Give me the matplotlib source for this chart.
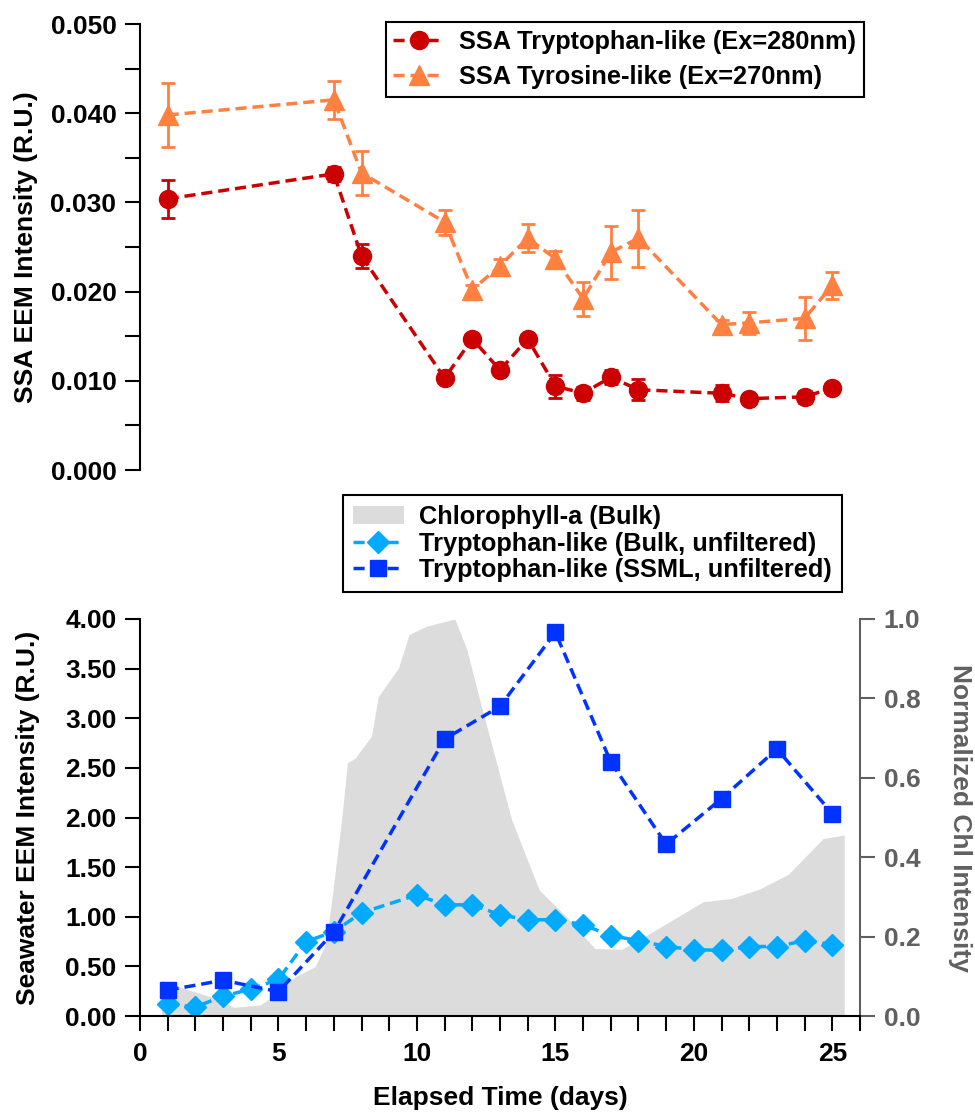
import numpy as np
import matplotlib
matplotlib.use('Agg')
import matplotlib.pyplot as plt
from matplotlib.patches import Patch
from matplotlib.ticker import MultipleLocator, FormatStrFormatter

plt.rcParams['font.family'] = ['Liberation Sans', 'DejaVu Sans']
plt.rcParams['font.weight'] = 'bold'
plt.rcParams['axes.labelweight'] = 'bold'
plt.rcParams['font.size'] = 19

# ---- top panel: SSA EEM intensity ----
ssa_days = [1, 7, 8, 11, 12, 13, 14, 15, 16, 17, 18, 21, 22, 24, 25]
trp = [0.0304, 0.0332, 0.0240, 0.0103, 0.0147, 0.0112, 0.0147, 0.0094,
       0.0086, 0.0104, 0.0090, 0.0086, 0.0080, 0.0082, 0.0092]
trp_err = [0.0021, 0.0008, 0.0013, 0.0004, 0.0004, 0.0004, 0.0004, 0.0013,
           0.0007, 0.0008, 0.0012, 0.0009, 0.0005, 0.0007, 0.0005]
tyr = [0.0398, 0.0415, 0.0333, 0.0278, 0.0202, 0.0229, 0.0260, 0.0237,
       0.0192, 0.0244, 0.0260, 0.0163, 0.0165, 0.0170, 0.0207]
tyr_err = [0.0036, 0.0021, 0.0025, 0.0014, 0.0005, 0.0007, 0.0016, 0.0008,
           0.0019, 0.0030, 0.0032, 0.0005, 0.0012, 0.0024, 0.0015]

# ---- bottom panel: seawater EEM + chlorophyll ----
bulk_days = list(range(1, 26))
bulk = [0.12, 0.09, 0.20, 0.27, 0.37, 0.75, 0.85, 1.04, None, 1.22, 1.12,
        1.12, 1.02, 0.97, 0.97, 0.92, 0.81, 0.76, 0.70, 0.67, 0.66, 0.70,
        0.70, 0.76, 0.72]
ssml_days = [1, 3, 5, 7, 11, 13, 15, 17, 19, 21, 23, 25]
ssml = [0.26, 0.36, 0.245, 0.845, 2.79, 3.12, 3.865, 2.56, 1.73, 2.19, 2.69, 2.04]

chl_days = [0.78, 1.2, 2.53, 3.4, 4.35, 5.0, 5.6, 6.32, 6.7, 6.92, 7.28, 7.49,
            7.76, 8.36, 8.6, 9.33, 9.72, 10.35, 11.37, 11.79, 12.27, 13.42,
            14.42, 15.4, 16.43, 17.39, 18.41, 20.34, 21.36, 22.38, 23.41,
            24.67, 25.43]
chl_norm = [0.09, 0.078, 0.049, 0.022, 0.028, 0.06, 0.099, 0.124, 0.18, 0.29,
            0.494, 0.638, 0.649, 0.705, 0.804, 0.876, 0.961, 0.982, 1.0, 0.926,
            0.796, 0.494, 0.317, 0.25, 0.17, 0.168, 0.208, 0.288, 0.296, 0.32,
            0.357, 0.447, 0.456]

red = '#CC0000'
orange = '#FF8040'
lblue = '#00AAFF'
dblue = '#0033FF'
gray = '#606060'
dash = (0, (3.2, 1.7))

W, H = 975, 1112
fig = plt.figure(figsize=(W / 100, H / 100), dpi=100)
ax1 = fig.add_axes([140 / W, 1 - 470 / H, 720 / W, 446 / H])
ax2 = fig.add_axes([140 / W, 1 - 1016 / H, 720 / W, 397 / H])
ax3 = ax2.twinx()
ax2.set_zorder(ax3.get_zorder() + 1)
ax2.patch.set_visible(False)

# top
ax1.errorbar(ssa_days, tyr, yerr=tyr_err, fmt='none', ecolor=orange,
             elinewidth=2, capsize=5, capthick=2, zorder=2)
ax1.errorbar(ssa_days, trp, yerr=trp_err, fmt='none', ecolor=red,
             elinewidth=2, capsize=5, capthick=2, zorder=2)
ax1.plot(ssa_days, trp, color=red, ls=dash, lw=2.5, marker='o', ms=13,
         label='SSA Tryptophan-like (Ex=280nm)', zorder=3)
ax1.plot(ssa_days, tyr, color=orange, ls=dash, lw=2.5, marker='^', ms=14,
         label='SSA Tyrosine-like (Ex=270nm)', zorder=3)
ax1.set_xlim(0, 26)
ax1.set_ylim(0, 0.05)
ax1.yaxis.set_major_locator(MultipleLocator(0.01))
ax1.yaxis.set_minor_locator(MultipleLocator(0.005))
ax1.yaxis.set_major_formatter(FormatStrFormatter('%.3f'))
for s in ['top', 'right', 'bottom']:
    ax1.spines[s].set_visible(False)
ax1.spines['left'].set_linewidth(1.5)
ax1.tick_params(axis='x', bottom=False, labelbottom=False)
ax1.tick_params(axis='y', which='both', direction='out', length=11, width=1.5, pad=6)
ax1.set_ylabel('SSA EEM Intensity (R.U.)')
ax1.yaxis.set_label_coords(-0.142, 0.5)
leg1 = ax1.legend(loc='upper right', bbox_to_anchor=(864 / W, 1 - 22 / H),
                  bbox_transform=fig.transFigure, borderaxespad=0,
                  fancybox=False, edgecolor='black', framealpha=1,
                  labelspacing=0.45, handlelength=2.0, handletextpad=0.6,
                  borderpad=0.3, fontsize=18.3)
leg1.get_frame().set_linewidth(1.5)

# bottom
ax3.fill_between(chl_days, 0, chl_norm, color='#DCDCDC', lw=0)
bulk_x = [d for d, v in zip(bulk_days, bulk) if v is not None]
bulk_y = [v for v in bulk if v is not None]
ax2.plot(bulk_x, bulk_y, color=lblue, ls=dash, lw=2.5, marker='D', ms=11)
ax2.plot(ssml_days, ssml, color=dblue, ls=dash, lw=2.5, marker='s', ms=11)
ax2.set_xlim(0, 26)
ax2.set_ylim(0, 4)
ax3.set_ylim(0, 1)
ax2.xaxis.set_major_locator(MultipleLocator(5))
ax2.xaxis.set_minor_locator(MultipleLocator(1))
ax2.yaxis.set_major_locator(MultipleLocator(0.5))
ax2.yaxis.set_major_formatter(FormatStrFormatter('%.2f'))
ax3.yaxis.set_major_locator(MultipleLocator(0.2))
ax3.yaxis.set_major_formatter(FormatStrFormatter('%.1f'))
for s in ['top', 'right']:
    ax2.spines[s].set_visible(False)
for s in ['top', 'left', 'bottom']:
    ax3.spines[s].set_visible(False)
ax2.spines['left'].set_linewidth(1.5)
ax2.spines['bottom'].set_linewidth(1.5)
ax3.spines['right'].set_linewidth(1.5)
ax3.spines['right'].set_color(gray)
ax2.tick_params(axis='x', which='both', direction='out', length=11, width=1.5, pad=8)
ax2.tick_params(axis='y', direction='out', length=11, width=1.5, pad=6)
ax3.tick_params(axis='y', direction='out', length=11, width=1.5, pad=6,
                colors=gray)
ax2.set_xlabel('Elapsed Time (days)', labelpad=14)
ax2.set_ylabel('Seawater EEM Intensity (R.U.)')
ax2.yaxis.set_label_coords(-0.139, 0.5)
ax3.set_ylabel('Normalized Chl Intensity', color=gray, rotation=270,
               va='bottom', labelpad=20)

handles = [Patch(facecolor='#DCDCDC', edgecolor='none'),
           ax2.lines[0], ax2.lines[1]]
labels = ['Chlorophyll-a (Bulk)', 'Tryptophan-like (Bulk, unfiltered)',
          'Tryptophan-like (SSML, unfiltered)']
leg2 = fig.legend(handles, labels, loc='upper right',
                  bbox_to_anchor=(842 / W, 1 - 495 / H), borderaxespad=0,
                  fancybox=False, edgecolor='black', framealpha=1,
                  labelspacing=0.1, handlelength=2.0, handletextpad=0.6,
                  borderpad=0.4, fontsize=18.3)
leg2.get_frame().set_linewidth(1.5)

fig.savefig('out.png', dpi=100)
